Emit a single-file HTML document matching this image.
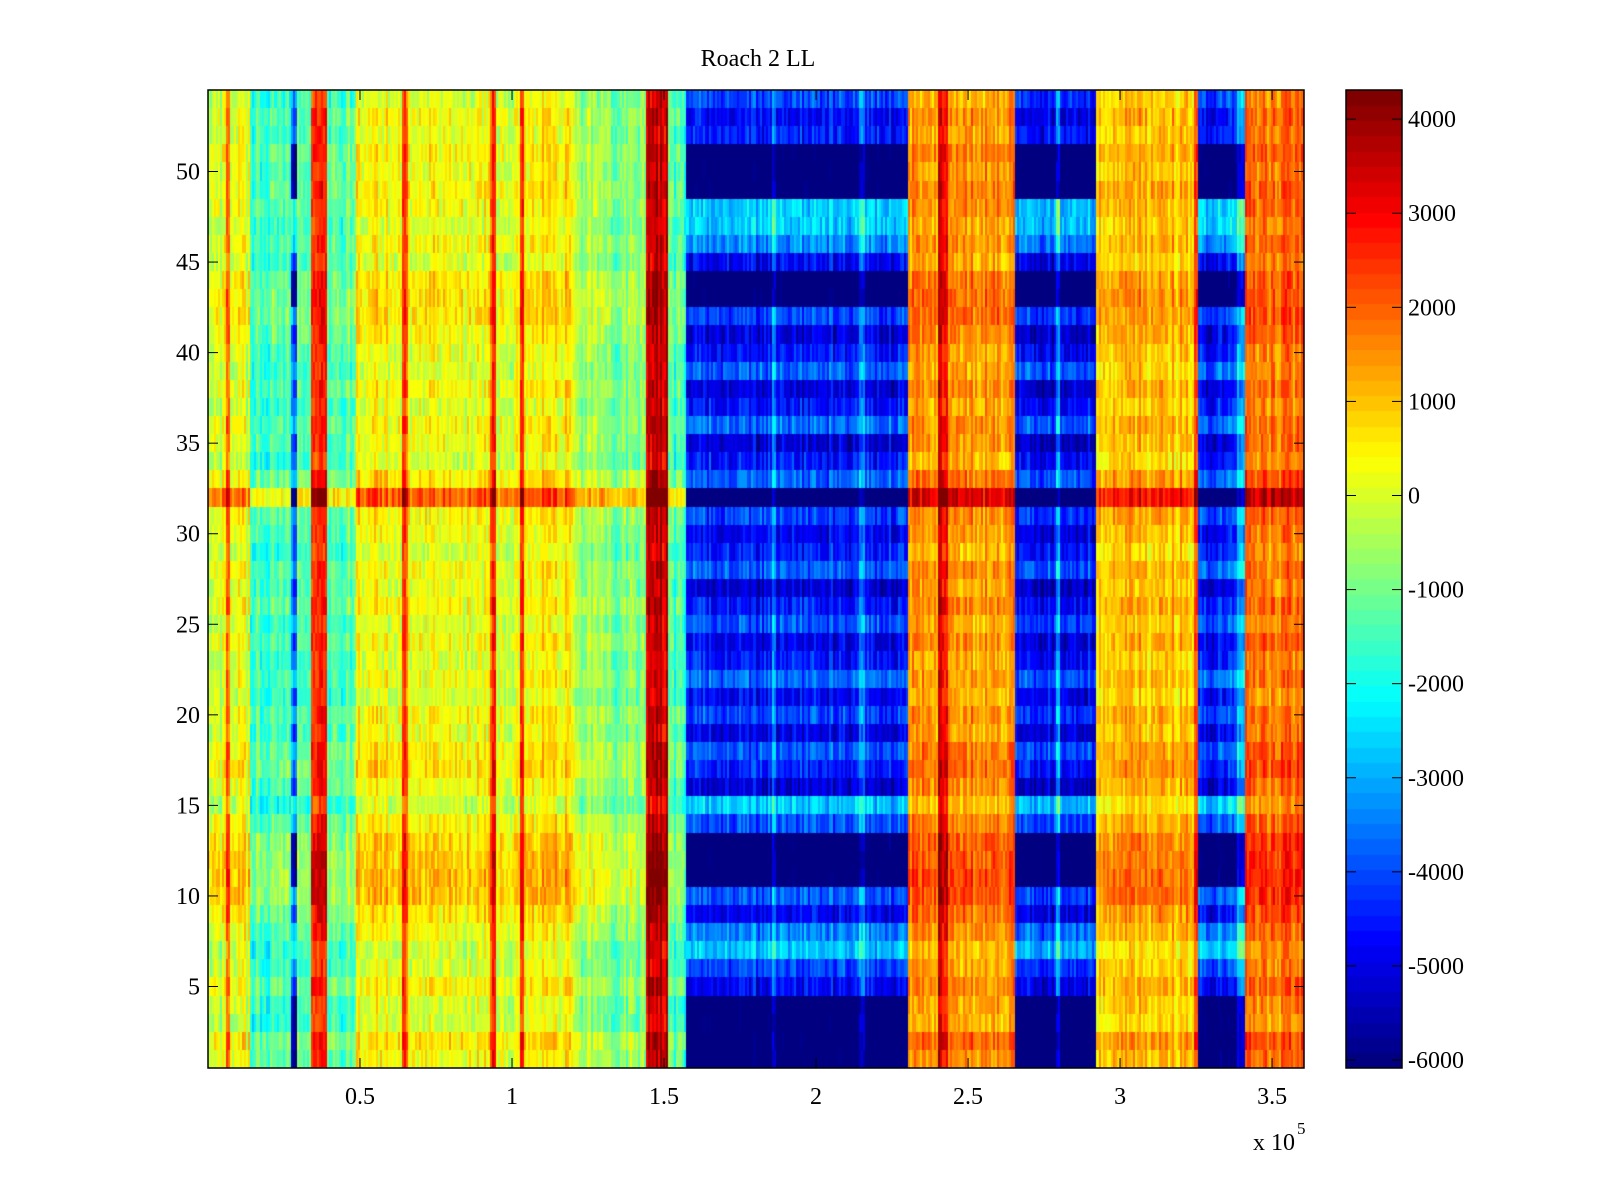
<!DOCTYPE html>
<html><head><meta charset="utf-8">
<style>
body{margin:0;background:#fff;width:1600px;height:1200px;overflow:hidden;font-family:"Liberation Serif",serif;}
#wrap{position:relative;width:1600px;height:1200px;}
canvas{position:absolute;}
svg{position:absolute;left:0;top:0;}
</style></head>
<body>
<div id="wrap">
<canvas id="hm" width="1096" height="978" style="left:208px;top:90px"></canvas>
<canvas id="cb" width="56" height="978" style="left:1346px;top:90px"></canvas>
<svg id="ax" width="1600" height="1200"></svg>
</div>
<script>
// band edges in units of 1e5, and base values per band
const bandEdges=[0,0.06,0.074,0.138,0.272,0.295,0.339,0.396,0.49,0.641,0.658,0.926,0.946,1.027,1.044,1.211,1.329,1.44,1.513,1.574,1.856,1.872,2.144,2.161,2.302,2.403,2.436,2.654,2.789,2.805,2.923,3.242,3.258,3.383,3.409,3.605];
const bandValues=[300,2600,500,-1100,-2800,-900,2900,-900,700,2600,600,2700,600,2600,1000,-200,-500,3900,-1100,-3800,-2300,-3800,-2300,-3800,1800,3600,1800,-4000,-2300,-4000,1500,3000,-3700,-2000,2200];
// row offsets (rows 1..54) for cool (negative) and warm regions
const rowCool=[-2400,-2400,-2400,-2400,-500,200,1500,800,-600,400,-2400,-2400,-2400,300,1600,-900,-200,400,-700,200,-500,600,-300,-700,400,-300,-900,500,-200,-600,200,-2600,500,-300,-900,600,-300,-800,500,-300,-800,200,-2400,-2400,-600,900,1600,1600,-2400,-2400,-2400,-200,-500,200];
const rowWarm=[200,500,-200,-100,300,-100,-200,200,500,900,900,800,700,300,-300,200,500,400,0,200,-200,100,-100,200,-100,300,0,200,-200,100,300,1900,500,-200,100,200,-100,200,-100,0,300,500,500,400,-100,200,-100,200,300,100,300,0,200,-100];
const xTicks=[0.5,1,1.5,2,2.5,3,3.5];
const yTicks=[5,10,15,20,25,30,35,40,45,50];
const cbTicks=[-6000,-5000,-4000,-3000,-2000,-1000,0,1000,2000,3000,4000];

const PL=208,PT=90,PW=1096,PH=978,XMAX=3.605,YMIN=0.5,YMAX=54.5,CMIN=-6085,CMAX=4310;
const xs=v=>PL+v/XMAX*PW, ys=v=>PT+(YMAX-v)/(YMAX-YMIN)*PH;
function jet(t){t=Math.max(0,Math.min(1,t));t=Math.floor(t*63.999)/63;
 const f=x=>Math.max(0,Math.min(1,1.5-Math.abs(4*t-x)));
 return [f(3),f(2),f(1)].map(v=>Math.round(v*255));}
function hash(a,b){let h=(a*374761393+b*668265263)>>>0;h=((h^(h>>>13))*1274126177)>>>0;return ((h^(h>>>16))%1000)/1000;}
const hm=document.getElementById('hm').getContext('2d');
const NC=540;
for(let c=0;c<NC;c++){
 const xv=(c+0.5)/NC*XMAX;
 let b=0;while(b<bandValues.length-1&&xv>=bandEdges[b+1])b++;
 const base=bandValues[b];
 for(let r=1;r<=54;r++){
  let v=base+(base<-1800?rowCool[r-1]:rowWarm[r-1])+(hash(c,r)-0.5)*500+(hash(c,0)-0.5)*500;
  const [R,G,B]=jet((v-CMIN)/(CMAX-CMIN));
  hm.fillStyle=`rgb(${R},${G},${B})`;
  const x0=Math.floor(c/NC*PW),x1=Math.floor((c+1)/NC*PW);
  const y0=Math.round(ys(r+0.5)-PT),y1=Math.round(ys(r-0.5)-PT);
  hm.fillRect(x0,y0,x1-x0,y1-y0);
 }
}
const cb=document.getElementById('cb').getContext('2d');
for(let i=0;i<64;i++){const [R,G,B]=jet((i+0.5)/64);cb.fillStyle=`rgb(${R},${G},${B})`;
 const y0=Math.floor(PH-(i+1)/64*PH),y1=Math.ceil(PH-i/64*PH);cb.fillRect(0,y0,56,y1-y0);}

const svg=document.getElementById('ax');const NS='http://www.w3.org/2000/svg';
function el(t,a,txt){const e=document.createElementNS(NS,t);for(const k in a)e.setAttribute(k,a[k]);if(txt!==undefined)e.textContent=txt;svg.appendChild(e);return e;}
let e;
e=el('rect',{x:PL,y:PT,width:PW,height:PH,fill:'none',stroke:'#000','stroke-width':1.5});

e=el('rect',{x:1346,y:PT,width:56,height:PH,fill:'none',stroke:'#000','stroke-width':1.5});

xTicks.forEach(t=>{const x=xs(t);
 el('line',{x1:x,y1:PT+PH,x2:x,y2:PT+PH-10,stroke:'#000'});el('line',{x1:x,y1:PT,x2:x,y2:PT+10,stroke:'#000'});
 e=el('text',{x:x,y:1104,'font-size':24,'text-anchor':'middle','font-family':'Liberation Serif, serif'},String(t));
 });
yTicks.forEach(t=>{const y=ys(t);
 el('line',{x1:PL,y1:y,x2:PL+10,y2:y,stroke:'#000'});el('line',{x1:PL+PW,y1:y,x2:PL+PW-10,y2:y,stroke:'#000'});
 e=el('text',{x:PL-8,y:y+8,'font-size':24,'text-anchor':'end','font-family':'Liberation Serif, serif'},String(t));
 });
cbTicks.forEach(t=>{const y=PT+(CMAX-t)/(CMAX-CMIN)*PH;
 el('line',{x1:1346,y1:y,x2:1356,y2:y,stroke:'#000'});el('line',{x1:1402,y1:y,x2:1392,y2:y,stroke:'#000'});
 e=el('text',{x:1408,y:y+8,'font-size':24,'font-family':'Liberation Serif, serif'},String(t));
 });
e=el('text',{x:1253,y:1150,'font-size':24,'font-family':'Liberation Serif, serif'},'x 10');

el('text',{x:1297,y:1134,'font-size':17,'font-family':'Liberation Serif, serif'},'5');
e=el('text',{x:758,y:66,'font-size':24,'text-anchor':'middle','font-family':'Liberation Serif, serif'},'Roach 2 LL');

</script>
</body></html>
